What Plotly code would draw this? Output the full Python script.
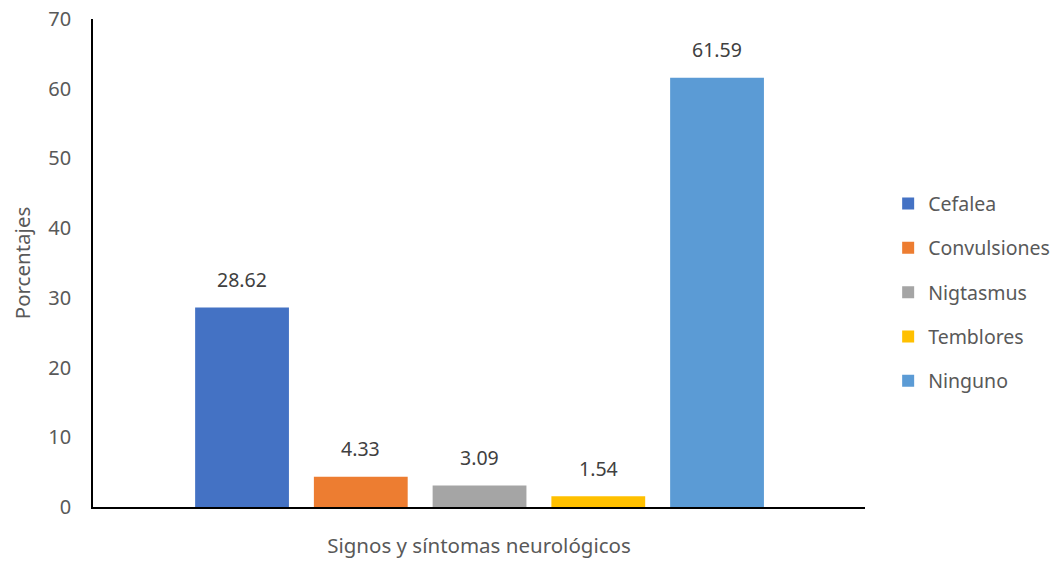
import plotly.graph_objects as go

# Neurological signs and symptoms (percent of patients)
sintomas = ["Cefalea", "Convulsiones", "Nigtasmus", "Temblores", "Ninguno"]
porcentajes = [28.62, 4.33, 3.09, 1.54, 61.59]
colores = ["#4472C4", "#ED7D31", "#A5A5A5", "#FFC000", "#5B9BD5"]
y_ticks = [0, 10, 20, 30, 40, 50, 60, 70]

FONT = "Noto Sans"
GRAY = "#595959"

fig = go.Figure()
for i, (nombre, valor, color) in enumerate(zip(sintomas, porcentajes, colores)):
    fig.add_trace(go.Bar(
        x=[i], y=[valor], name=nombre, width=0.79,
        marker=dict(color=color, line=dict(width=0)),
        legendgroup=nombre, hoverinfo="name+y",
    ))
    fig.add_annotation(
        x=i, y=valor, text=f"{valor:.2f}", showarrow=False,
        yanchor="middle", yshift=28,
        font=dict(family=FONT, size=19.5, color="#404040"),
    )

fig.update_layout(
    width=1059, height=563,
    margin=dict(l=93, r=194, t=19, b=56, autoexpand=False),
    paper_bgcolor="white", plot_bgcolor="white",
    barmode="overlay",
    font=dict(family=FONT, color=GRAY),
    legend=dict(
        x=1.030, xanchor="left", y=0.44, yanchor="middle",
        font=dict(family=FONT, size=19.5, color=GRAY),
        tracegroupgap=16, itemwidth=30,
    ),
    showlegend=True,
)

fig.update_xaxes(
    range=[-1.255, 5.246], showticklabels=False, ticks="",
    showgrid=False, zeroline=False, automargin=False,
    showline=True, linecolor="black", linewidth=1.5,
    title=dict(text="Signos y síntomas neurológicos",
               font=dict(family=FONT, size=20.5, color=GRAY), standoff=31),
)
fig.update_yaxes(
    range=[0, 70], tickvals=y_ticks, ticks="",
    showgrid=False, zeroline=False, automargin=False,
    showline=True, linecolor="black", linewidth=1.5,
    tickfont=dict(family=FONT, size=20, color=GRAY),
    ticklabelstandoff=16,
    title=dict(text="Porcentajes",
               font=dict(family=FONT, size=20.5, color=GRAY), standoff=12),
)

fig.write_html("out.html")
